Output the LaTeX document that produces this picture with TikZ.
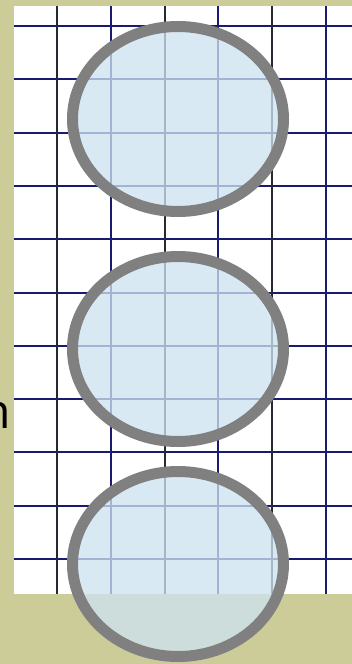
\documentclass[tikz,border=0pt]{standalone}
\usepackage{fontspec}
\setmainfont{Open Sans}
\usetikzlibrary{shapes.geometric}
\definecolor{olivebg}{RGB}{204,204,153}
\definecolor{navyline}{RGB}{26,26,110}
\definecolor{darkline}{RGB}{40,40,50}
\definecolor{lensgray}{RGB}{128,128,128}
\definecolor{lensblue}{RGB}{205,227,241}
\begin{document}
\begin{tikzpicture}[x=1pt, y=-1pt,
    gridline/.style={line width=2pt, navyline},
    gridlinedark/.style={line width=2pt, darkline},
    lens/.style={ellipse, draw=lensgray, line width=11pt, fill=lensblue, fill opacity=0.77, inner sep=0pt, minimum width=211pt, minimum height=185pt}
]
    % Background
    \fill[olivebg] (0,0) rectangle (352,664);
    \useasboundingbox (0,0) rectangle (352,664);
    \fill[white] (14,6) rectangle (352,594);

    % Grid
    \foreach \y in {26,79.3,...,590} {
        \draw[gridline] (14,\y) -- (352,\y);
    }
    \foreach \x in {57,164.6,272.2} {
        \draw[gridlinedark] (\x,6) -- (\x,594);
    }
    \foreach \x in {110.8,218.4,326} {
        \draw[gridline] (\x,6) -- (\x,594);
    }

    % Label
    \node[anchor=base east, inner sep=0pt, font=\fontsize{48}{56}\selectfont] (label) at (11,428) {n};

    % Lenses
    \node[lens] (lenstop) at (178,119) {};
    \node[lens] (lensmid) at (178,349) {};
    \node[lens] (lensbot) at (178,564) {};
\end{tikzpicture}
\end{document}
